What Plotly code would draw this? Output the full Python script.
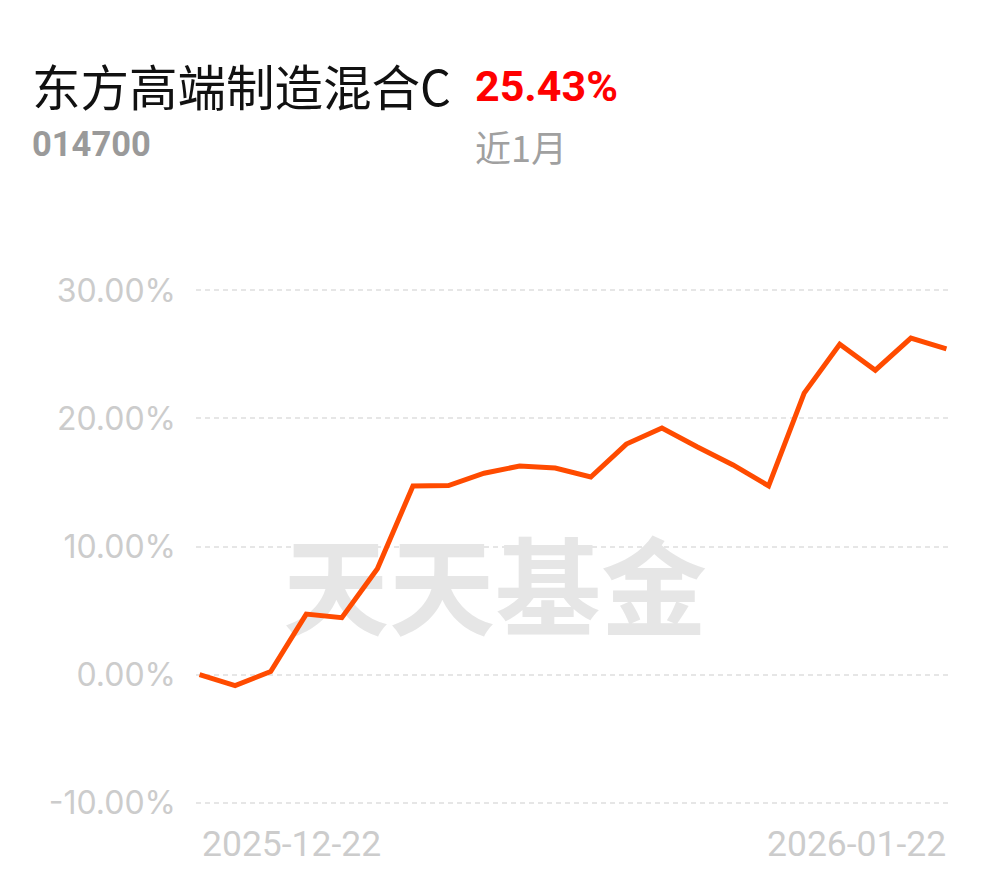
import plotly.graph_objects as go

dates = ["2025-12-22", "2025-12-23", "2025-12-24", "2025-12-25", "2025-12-26",
         "2025-12-29", "2025-12-30", "2025-12-31", "2026-01-05", "2026-01-06",
         "2026-01-07", "2026-01-08", "2026-01-09", "2026-01-12", "2026-01-13",
         "2026-01-14", "2026-01-15", "2026-01-16", "2026-01-19", "2026-01-20",
         "2026-01-21", "2026-01-22"]
returns = [0.00, -0.86, 0.23, 4.72, 4.44, 8.26, 14.73, 14.76, 15.72, 16.29,
           16.13, 15.43, 18.00, 19.25, 17.77, 16.37, 14.73, 21.98, 25.80, 23.77,
           26.27, 25.43]
y_ticks = [-10, 0, 10, 20, 30]
y_tick_labels = ["-10.00%", "0.00%", "10.00%", "20.00%", "30.00%"]

fund_name = "东方高端制造混合C"
fund_code = "014700"
period_label = "近1月"
period_return = "25.43%"
watermark = "天天基金"

x_idx = list(range(len(dates)))

# page body has an 8px margin; the figure is sized so it fills the window exactly
OFF = 8
W, H = 990 - OFF, 878 - OFF
ml, mr, mt, mb = 196 - OFF, 40, 284 - OFF, 69
PW, PH = W - ml - mr, H - mt - mb


def px_x(x):
    return (x - OFF - ml) / PW


def px_y(y):
    return (H - mb - (y - OFF)) / PH


fig = go.Figure()
fig.add_trace(go.Scatter(
    x=x_idx, y=returns, mode="lines",
    line=dict(color="#FF4B00", width=5, shape="linear"),
    hoverinfo="skip", showlegend=False,
))

fig.update_layout(
    width=W, height=H,
    margin=dict(l=ml, r=mr, t=mt, b=mb),
    paper_bgcolor="white", plot_bgcolor="white",
    showlegend=False,
    xaxis=dict(range=[-0.1, len(dates) - 0.9], showgrid=False, zeroline=False,
               showticklabels=False, showline=False, fixedrange=True),
    yaxis=dict(range=[-10.5, 30.5], tickvals=y_ticks, ticktext=y_tick_labels,
               showgrid=True, gridcolor="#E6E6E6", gridwidth=1.5,
               griddash="5px,4px", zeroline=False, showline=False,
               tickfont=dict(family="Inter, Roboto", size=32, color="#CCCCCC"),
               ticklabelstandoff=19, fixedrange=True),
    font=dict(family="Noto Sans CJK SC, Roboto"),
)

fig.add_shape(
    type="rect", xref="paper", yref="paper",
    x0=px_x(285), x1=px_x(705), y0=px_y(648), y1=px_y(548),
    line=dict(width=0), fillcolor="rgba(0,0,0,0)", layer="between",
    label=dict(text=watermark, font=dict(family="Noto Sans CJK SC", size=106,
                                         color="#E6E6E6", weight=700),
               textposition="middle center"),
)

annotations = [
    dict(text=fund_name, x=30, y=85,
         font=dict(family="Noto Sans CJK SC", size=48.5, color="#111111")),
    dict(text=period_return, x=473, y=86,
         font=dict(family="Roboto", size=43, color="#FF0000", weight="bold")),
    dict(text=fund_code, x=30, y=144,
         font=dict(family="Roboto", size=34.5, color="#9A9A9A", weight="bold")),
    dict(text=period_label, x=473, y=146,
         font=dict(family="Noto Sans CJK SC", size=36, color="#A0A0A0")),
]
for a in annotations:
    fig.add_annotation(text=a["text"], x=px_x(a["x"]), y=px_y(a["y"]),
                       xref="paper", yref="paper", xanchor="left", yanchor="middle",
                       showarrow=False, font=a["font"])

label_font = dict(family="Roboto", size=35.5, color="#CCCCCC")
fig.add_annotation(text=dates[0], x=x_idx[0], xref="x", y=px_y(844), yref="paper",
                   xanchor="left", yanchor="middle", showarrow=False, xshift=0,
                   font=label_font)
fig.add_annotation(text=dates[-1], x=x_idx[-1], xref="x", y=px_y(844), yref="paper",
                   xanchor="right", yanchor="middle", showarrow=False, xshift=2,
                   font=label_font)

fig.write_html("out.html", config={"displayModeBar": False})
